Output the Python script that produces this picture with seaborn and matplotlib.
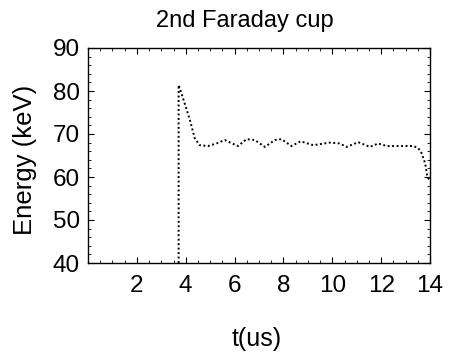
import matplotlib
matplotlib.use("Agg")
import matplotlib.pyplot as plt
from matplotlib.ticker import MultipleLocator
import seaborn as sns
import pandas as pd

title = "2nd Faraday cup"
x_label = "t(us)"
y_label = "Energy (keV)"

t_us = [3.71, 3.71, 3.89, 4.17, 4.37, 4.57, 4.91, 5.26, 5.60, 5.94, 6.14, 6.49,
        6.83, 7.24, 7.65, 7.92, 8.33, 8.70, 9.22, 9.90, 10.30, 10.59, 11.06,
        11.54, 11.88, 12.23, 13.32, 13.52, 13.66, 13.80, 13.89, 14.0]
energy_kev = [40.0, 81.4, 78.3, 73.3, 69.0, 67.4, 67.2, 67.8, 68.6, 67.7, 67.2, 68.8,
              68.6, 67.0, 68.6, 68.8, 67.2, 68.3, 67.4, 68.0, 67.8, 67.0, 68.1,
              67.0, 67.8, 67.2, 67.2, 66.7, 65.5, 63.2, 60.1, 59.0]
x_ticks = [2, 4, 6, 8, 10, 12, 14]
y_ticks = [40, 50, 60, 70, 80, 90]

df = pd.DataFrame({"t": t_us, "E": energy_kev})

sns.set_style("white")
plt.rcParams["font.family"] = ["Liberation Sans", "DejaVu Sans"]
plt.rcParams["text.color"] = "black"
plt.rcParams["axes.labelcolor"] = "black"
plt.rcParams["xtick.color"] = "black"
plt.rcParams["ytick.color"] = "black"

fig = plt.figure(figsize=(4.49, 3.54), dpi=100)
ax = fig.add_axes([88 / 449, 1 - 263 / 354, (430 - 88) / 449, (263 - 48) / 354])

sns.lineplot(data=df, x="t", y="E", sort=False, estimator=None, ax=ax,
             color="black", linewidth=1.4, linestyle=(0, (1, 1.3)))

ax.set_xlim(0, 14)
ax.set_ylim(40, 90)
ax.set_xticks(x_ticks)
ax.set_yticks(y_ticks)
ax.xaxis.set_minor_locator(MultipleLocator(0.5))
ax.yaxis.set_minor_locator(MultipleLocator(2))
ax.tick_params(which="both", direction="in", top=True, right=True,
               bottom=True, left=True, color="black")
ax.tick_params(which="major", length=4, width=0.8, labelsize=17.5)
ax.tick_params(axis="x", which="major", pad=9)
ax.tick_params(axis="y", which="major", pad=6)
ax.tick_params(which="minor", length=2, width=0.6)
for s in ax.spines.values():
    s.set_color("black")
    s.set_linewidth(1.0)

ax.set_xlabel(x_label, fontsize=18)
ax.set_ylabel(y_label, fontsize=18.5)
ax.xaxis.set_label_coords((257 - 88) / 342, (263 - 327) / 215)
ax.yaxis.set_label_coords((37 - 88) / 342, (263 - 160) / 215)
fig.text(245 / 449, 1 - 27 / 354, title, fontsize=17, ha="center", va="baseline")

fig.savefig("out.png", dpi=100)
